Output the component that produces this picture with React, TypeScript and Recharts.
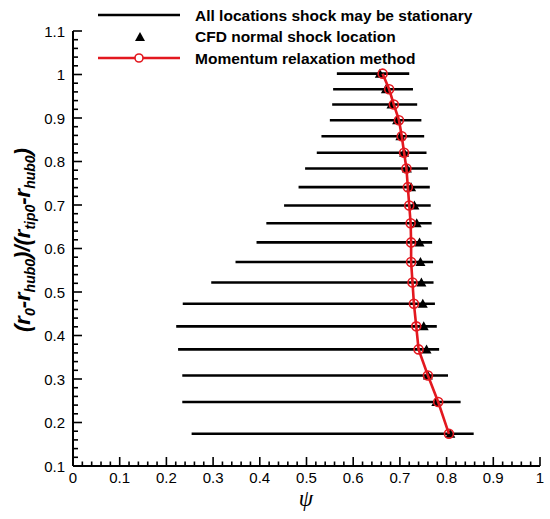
import React from 'react';
import { ComposedChart, Scatter, XAxis, YAxis, Legend } from 'recharts';

// radial positions (r0-rhub0)/(rtip0-rhub0)
const radius = [1.002, 0.966, 0.931, 0.895, 0.858, 0.82, 0.784, 0.741, 0.699, 0.658, 0.614, 0.569, 0.522, 0.473, 0.421, 0.368, 0.308, 0.247, 0.174];
// left / right ends of the range where the shock may be stationary
const rangeLeft = [0.565, 0.557, 0.555, 0.55, 0.532, 0.522, 0.497, 0.483, 0.452, 0.414, 0.393, 0.348, 0.296, 0.235, 0.221, 0.225, 0.234, 0.234, 0.254];
const rangeRight = [0.72, 0.728, 0.737, 0.746, 0.752, 0.757, 0.76, 0.764, 0.766, 0.768, 0.769, 0.771, 0.772, 0.775, 0.779, 0.784, 0.803, 0.83, 0.858];
// CFD normal shock location
const cfdPsi = [0.657, 0.67, 0.682, 0.694, 0.701, 0.709, 0.715, 0.724, 0.731, 0.736, 0.742, 0.744, 0.746, 0.749, 0.751, 0.757, 0.76, 0.778, 0.808];
// momentum relaxation method
const momentumPsi = [0.663, 0.677, 0.687, 0.698, 0.704, 0.709, 0.714, 0.717, 0.72, 0.723, 0.724, 0.724, 0.727, 0.73, 0.735, 0.74, 0.76, 0.782, 0.805];

const xMajorTicks = [0, 0.1, 0.2, 0.3, 0.4, 0.5, 0.6, 0.7, 0.8, 0.9, 1];
const yMajorTicks = [0.1, 0.2, 0.3, 0.4, 0.5, 0.6, 0.7, 0.8, 0.9, 1, 1.1];
const xTickLabels = ['0', '0.1', '0.2', '0.3', '0.4', '0.5', '0.6', '0.7', '0.8', '0.9', '1'];
const yTickLabels = ['0.1', '0.2', '0.3', '0.4', '0.5', '0.6', '0.7', '0.8', '0.9', '1', '1.1'];

const legendLabels = ['All locations shock may be stationary', 'CFD normal shock location', 'Momentum relaxation method'];

const RED = '#e3181f';
const FONT = 'Arial, "Liberation Sans", sans-serif';

function withMinor(major: number[]) {
  const out: number[] = [];
  for (let i = 0; i < major.length; i++) {
    out.push(major[i]);
    if (i < major.length - 1) {
      const step = (major[i + 1] - major[i]) / 5;
      for (let k = 1; k < 5; k++) out.push(+(major[i] + step * k).toFixed(3));
    }
  }
  return out;
}

const xTicks = withMinor(xMajorTicks);
const yTicks = withMinor(yMajorTicks);

const segments = radius.map((r, i) => [
  { x: rangeLeft[i], y: r },
  { x: rangeRight[i], y: r },
]);
const cfdData = radius.map((r, i) => ({ x: cfdPsi[i], y: r }));
const momentumData = radius.map((r, i) => ({ x: momentumPsi[i], y: r }));

function majorIndex(v: number, majors: number[]) {
  return majors.findIndex((m) => Math.abs(m - v) < 1e-6);
}

const XTick = (props: any) => {
  const { x, y, payload } = props;
  const idx = majorIndex(payload.value, xMajorTicks);
  const major = idx >= 0;
  return (
    <g>
      <line x1={x} y1={y} x2={x} y2={y - (major ? 9 : 4.5)} stroke="#000" strokeWidth={1.6} />
      {major && (
        <text x={x} y={y + 17} textAnchor="middle" fontFamily={FONT} fontSize={15} fill="#000">
          {xTickLabels[idx]}
        </text>
      )}
    </g>
  );
};

const YTick = (props: any) => {
  const { x, y, payload } = props;
  const idx = majorIndex(payload.value, yMajorTicks);
  const major = idx >= 0;
  return (
    <g>
      <line x1={x} y1={y} x2={x + (major ? 9 : 5)} y2={y} stroke="#000" strokeWidth={1.6} />
      {major && (
        <text x={x - 8} y={y + 5.5} textAnchor="end" fontFamily={FONT} fontSize={15} fill="#000">
          {yTickLabels[idx]}
        </text>
      )}
    </g>
  );
};

const Triangle = (props: any) => {
  const { cx, cy } = props;
  if (cx == null || cy == null) return <g />;
  return <polygon points={`${cx},${cy - 5} ${cx - 5},${cy + 4} ${cx + 5},${cy + 4}`} fill="#000" />;
};

const OpenCircle = (props: any) => {
  const { cx, cy } = props;
  if (cx == null || cy == null) return <g />;
  return <circle cx={cx} cy={cy} r={4.5} fill="none" stroke={RED} strokeWidth={1.6} />;
};

const NoShape = () => <g />;

const LegendContent = () => (
  <svg width={500} height={72} style={{ display: 'block' }}>
    <line x1={98} y1={15} x2={180} y2={15} stroke="#000" strokeWidth={2.6} />
    <polygon points="140,32 135,41 145,41" fill="#000" />
    <line x1={98} y1={58} x2={180} y2={58} stroke={RED} strokeWidth={2.6} />
    <circle cx={139} cy={58} r={4} fill="#fff" stroke={RED} strokeWidth={1.6} />
    {legendLabels.map((t, i) => (
      <text key={t} x={195} y={[20.5, 42, 63.5][i]} fontFamily={FONT} fontWeight="bold" fontSize={15.5} fill="#000">
        {t}
      </text>
    ))}
  </svg>
);

const YLabel = () => (
  <text
    x={30}
    y={240}
    transform="rotate(-90, 30, 240)"
    textAnchor="middle"
    fontFamily={FONT}
    fontWeight="bold"
    fontStyle="italic"
    fontSize={22}
    fill="#000"
  >
    <tspan>(r</tspan>
    <tspan fontSize={14} dy={5}>0</tspan>
    <tspan dy={-5}>-r</tspan>
    <tspan fontSize={14} dy={5}>hub0</tspan>
    <tspan dy={-5}>)/(r</tspan>
    <tspan fontSize={14} dy={5}>tip0</tspan>
    <tspan dy={-5}>-r</tspan>
    <tspan fontSize={14} dy={5}>hub0</tspan>
    <tspan dy={-5}>)</tspan>
  </text>
);

const XLabel = () => (
  <text x={306} y={506} textAnchor="middle" fontFamily='"Liberation Serif", "DejaVu Serif", serif' fontStyle="italic" fontSize={23} fill="#000">
    ψ
  </text>
);

export default function App() {
  return (
    <div style={{ position: 'absolute', left: 0, top: 0, width: 550, height: 519, background: '#fff' }}>
      <ComposedChart width={550} height={519} margin={{ top: 31, right: 10, bottom: 52, left: 72 }}>
        <XAxis
          type="number"
          dataKey="x"
          domain={[0, 1]}
          ticks={xTicks}
          interval={0}
          height={1}
          tickSize={0}
          tickMargin={0}
          tickLine={false}
          axisLine={{ stroke: '#000', strokeWidth: 2 }}
          tick={<XTick />}
          allowDataOverflow
          label={{ content: <XLabel /> }}
        />
        <YAxis
          type="number"
          dataKey="y"
          domain={[0.1, 1.1]}
          ticks={yTicks}
          interval={0}
          width={1}
          tickSize={0}
          tickMargin={0}
          tickLine={false}
          axisLine={{ stroke: '#000', strokeWidth: 2 }}
          tick={<YTick />}
          allowDataOverflow
          label={{ content: <YLabel /> }}
        />
        <Legend
          layout="vertical"
          align="center"
          verticalAlign="middle"
          content={<LegendContent />}
          wrapperStyle={{ position: 'absolute', top: 0, left: 0, width: 500, height: 72 }}
        />
        {segments.map((seg, i) => (
          <Scatter
            key={`seg-${i}`}
            data={seg}
            fill="#000"
            line={{ stroke: '#000', strokeWidth: 2.6 }}
            shape={<NoShape />}
            isAnimationActive={false}
            legendType="none"
          />
        ))}
        <Scatter data={cfdData} fill="#000" shape={<Triangle />} isAnimationActive={false} legendType="none" />
        <Scatter
          data={momentumData}
          fill={RED}
          line={{ stroke: RED, strokeWidth: 2.6 }}
          shape={<OpenCircle />}
          isAnimationActive={false}
          legendType="none"
        />
      </ComposedChart>
    </div>
  );
}
